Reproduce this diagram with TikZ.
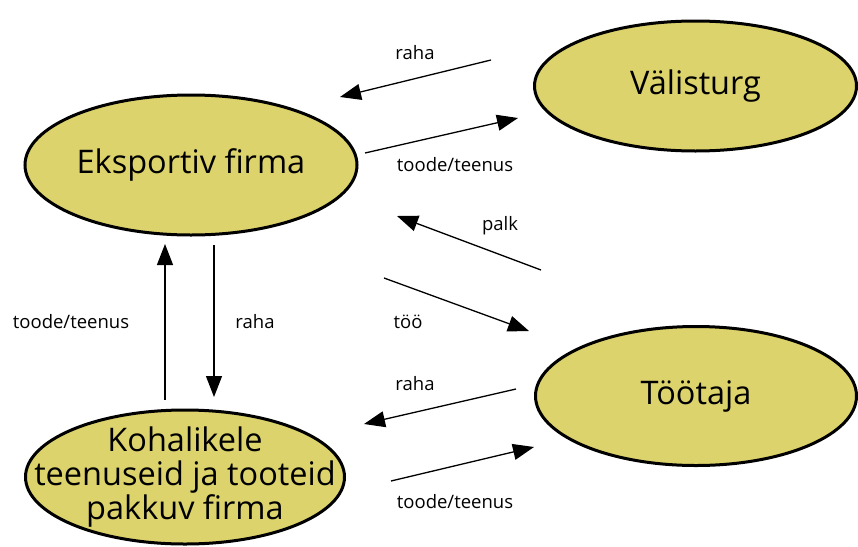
\documentclass[tikz,border=0pt]{standalone}
\usepackage{fontspec}
\setmainfont{Open Sans}
\usetikzlibrary{shapes.geometric,arrows.meta}
\definecolor{ovalfill}{RGB}{221,211,108}
\begin{document}
\begin{tikzpicture}[x=1pt,y=-1pt,
  oval/.style={ellipse,draw=black,line width=3pt,fill=ovalfill,inner sep=0pt,font=\fontsize{32.5}{34}\selectfont,align=center},
  flow/.style={line width=1.3pt,-{Triangle[length=21pt,width=16pt]}},
  lbl/.style={font=\fontsize{18.5}{20}\selectfont,inner sep=0pt}]
\useasboundingbox (0,0) rectangle (858,546);
\node[oval,minimum width=332pt,minimum height=140pt] (eks) at (191,165) {Eksportiv firma};
\node[oval,minimum width=322pt,minimum height=130pt] (val) at (695.5,86) {Välisturg};
\node[oval,minimum width=321pt,minimum height=139pt] (too) at (696,396) {Töötaja};
\node[oval,minimum width=319pt,minimum height=134pt,inner xsep=-40pt,inner ysep=-10pt] (koh) at (185,477) {Kohalikele\\teenuseid ja tooteid\\pakkuv firma};
% endpoints
\coordinate (a1) at (491,60);  \coordinate (a2) at (340,97);
\coordinate (b1) at (365,153); \coordinate (b2) at (518,118);
\coordinate (c1) at (541,270); \coordinate (c2) at (397,216);
\coordinate (d1) at (384,278); \coordinate (d2) at (529,331);
\coordinate (e1) at (516,389); \coordinate (e2) at (364,424);
\coordinate (f1) at (391,481); \coordinate (f2) at (534,447);
\coordinate (g1) at (165,400); \coordinate (g2) at (165,244);
\coordinate (h1) at (214,245); \coordinate (h2) at (214,397);
\draw[flow] (a1) -- (a2);
\draw[flow] (b1) -- (b2);
\draw[flow] (c1) -- (c2);
\draw[flow] (d1) -- (d2);
\draw[flow] (e1) -- (e2);
\draw[flow] (f1) -- (f2);
\draw[flow] (g1) -- (g2);
\draw[flow] (h1) -- (h2);
\node[lbl] (l1) at (415,53) {raha};
\node[lbl] (l2) at (455,165) {toode/teenus};
\node[lbl] (l3) at (500,226) {palk};
\node[lbl] (l4) at (408,322) {töö};
\node[lbl] (l5) at (415,384) {raha};
\node[lbl] (l6) at (455,502) {toode/teenus};
\node[lbl] (l7) at (71,322) {toode/teenus};
\node[lbl] (l8) at (255,322) {raha};
\end{tikzpicture}
\end{document}
